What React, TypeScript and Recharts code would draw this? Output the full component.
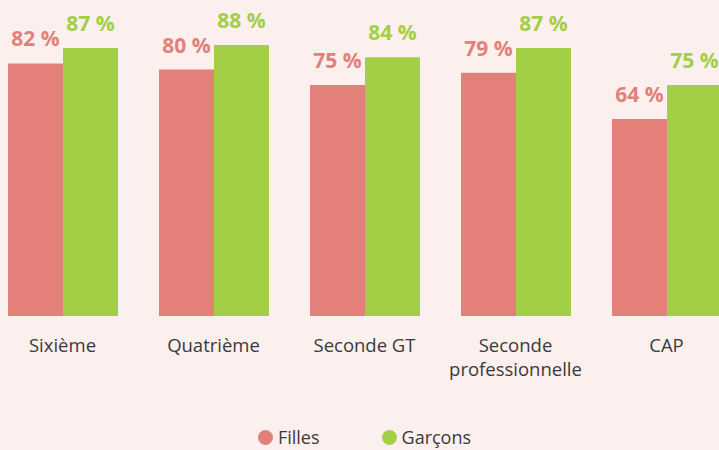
import { BarChart, Bar, XAxis, YAxis, LabelList, Legend } from 'recharts'

const categories = ['Sixième', 'Quatrième', 'Seconde GT', 'Seconde professionnelle', 'CAP']
const filles = [82, 80, 75, 79, 64]
const garcons = [87, 88, 84, 87, 75]

const COLORS = { filles: '#e4807a', garcons: '#a2cf46' }
const FONT = '"Open Sans", sans-serif'

const data = categories.map((c, i) => ({ name: c, filles: filles[i], garcons: garcons[i] }))

const TwoLineTick = (props: any) => {
  const { x, y, payload } = props
  const words = String(payload.value)
  const lines = words === 'Seconde professionnelle' ? ['Seconde', 'professionnelle'] : [words]
  return (
    <text x={x} y={y} textAnchor="middle" fill="#3a3a3a" fontSize={18.5} fontFamily={FONT}>
      {lines.map((l, i) => (
        <tspan key={i} x={x} dy={i === 0 ? 28 : 24}>
          {l}
        </tspan>
      ))}
    </text>
  )
}

const LegendContent = () => (
  <div style={{ display: 'flex', justifyContent: 'center', gap: 62, paddingTop: 21, fontFamily: FONT, fontSize: 18, lineHeight: '20px', color: '#3a3a3a' }}>
    {[
      { label: 'Filles', color: COLORS.filles },
      { label: 'Garçons', color: COLORS.garcons },
    ].map((it) => (
      <div key={it.label} style={{ display: 'flex', alignItems: 'center', gap: 5 }}>
        <span style={{ width: 15, height: 15, borderRadius: '50%', background: it.color, display: 'inline-block' }} />
        <span>{it.label}</span>
      </div>
    ))}
  </div>
)

export default function App() {
  return (
    <div style={{ position: 'absolute', left: 0, top: 0, width: 719, height: 450, overflow: 'hidden', background: '#fbf0ee' }}>
      <div style={{ position: 'absolute', left: -13, top: 0 }}>
        <BarChart
          width={755}
          height={450}
          data={data}
          margin={{ top: 8, right: 0, left: 0, bottom: 0 }}
          barCategoryGap={21}
          barGap={0}
        >
          <XAxis dataKey="name" axisLine={false} tickLine={false} height={90} interval={0} tick={<TwoLineTick />} />
          <YAxis hide domain={[0, 100]} />
          <Legend verticalAlign="bottom" height={44} content={<LegendContent />} />
          <Bar dataKey="filles" fill={COLORS.filles} isAnimationActive={false}>
            <LabelList
              dataKey="filles"
              position="top"
              offset={17}
              formatter={(v: any) => `${v} %`}
              fill={COLORS.filles}
              fontSize={21}
              fontWeight={700}
              fontFamily={FONT}
            />
          </Bar>
          <Bar dataKey="garcons" fill={COLORS.garcons} isAnimationActive={false}>
            <LabelList
              dataKey="garcons"
              position="top"
              offset={17}
              formatter={(v: any) => `${v} %`}
              fill={COLORS.garcons}
              fontSize={21}
              fontWeight={700}
              fontFamily={FONT}
            />
          </Bar>
        </BarChart>
      </div>
    </div>
  )
}
